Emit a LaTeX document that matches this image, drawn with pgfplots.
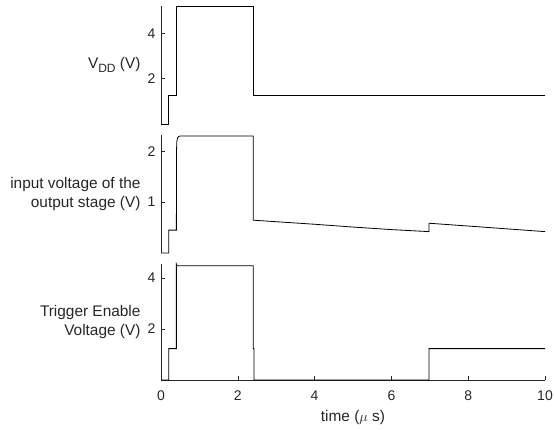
\documentclass[border=0pt]{standalone}
\usepackage{fontspec}
\setmainfont{Liberation Sans}
\usepackage{pgfplots}
\pgfplotsset{compat=1.18}
\definecolor{axgray}{rgb}{0.15,0.15,0.15}

\pgfplotsset{
  panel/.style={
    scale only axis, width=384pt, height=118pt,
    anchor=south west,
    xmin=0, xmax=10,
    axis y line*=left,
    tick align=inside,
    major tick length=4pt,
    clip=false,
    axis line style={axgray, line width=0.5pt},
    every tick/.style={axgray, line width=0.5pt},
    tick label style={font=\fontsize{14}{16}\selectfont, text=axgray},
    yticklabel style={xshift=-2pt},
    /pgf/number format/assume math mode=true,
    every axis y label/.style={at={(axis description cs:0,0.5)}, anchor=east,
      align=right, xshift=-17pt, font=\fontsize{15.4}{19}\selectfont, text=axgray},
  },
  sig/.style={black, line width=0.8pt, mark=none},
}

\begin{document}
\begin{tikzpicture}
\path[use as bounding box] (0,0) rectangle (554pt,430pt);

% V_DD
\begin{axis}[panel, at={(161pt,306pt)}, axis x line=none,
  ymin=0, ymax=5.21, ytick={2,4},
  ylabel={V\raisebox{-0.45ex}{\fontsize{12}{14}\selectfont DD} (V)}]
\addplot[sig] coordinates {(0,0) (0.2,0) (0.2,1.25) (0.4,1.25) (0.4,5.2) (2.4,5.2) (2.4,1.25) (10,1.25)};
\end{axis}

% input voltage of the output stage
\begin{axis}[panel, at={(161pt,177pt)}, axis x line=none,
  ymin=0, ymax=2.32, ytick={1,2},
  ylabel={input voltage of the\\output stage (V)}]
\addplot[sig] coordinates {(0,0) (0.2,0) (0.2,0.45) (0.4,0.45) (0.405,2.0) (0.41,2.18)
  (0.43,2.26) (0.46,2.29) (0.5,2.3) (2.4,2.3) (2.4,0.645) (3,0.615) (4,0.565)
  (5,0.51) (6,0.46) (6.98,0.42) (6.98,0.585) (8,0.53) (9,0.475) (10,0.42)};
\end{axis}

% trigger enable
\begin{axis}[panel, at={(161pt,50pt)}, height=116pt,
  axis x line*=bottom,
  ymin=0, ymax=4.55, ytick={2,4},
  xtick={0,2,...,10},
  xticklabel style={yshift=-7pt},
  every axis x label/.style={at={(axis description cs:0.5,0)}, anchor=center,
    yshift=-38pt, font=\fontsize{15.4}{19}\selectfont, text=axgray},
  xlabel={time ($\mu$ s)},
  ylabel={Trigger Enable\\Voltage (V)}]
\addplot[sig] coordinates {(0,0) (0.2,0) (0.2,1.23) (0.4,1.23) (0.4,4.55) (0.42,4.48)
  (2.4,4.48) (2.4,1.23) (2.42,1.23) (2.42,0) (6.98,0) (6.98,1.23) (10,1.23)};
\end{axis}
\end{tikzpicture}
\end{document}
